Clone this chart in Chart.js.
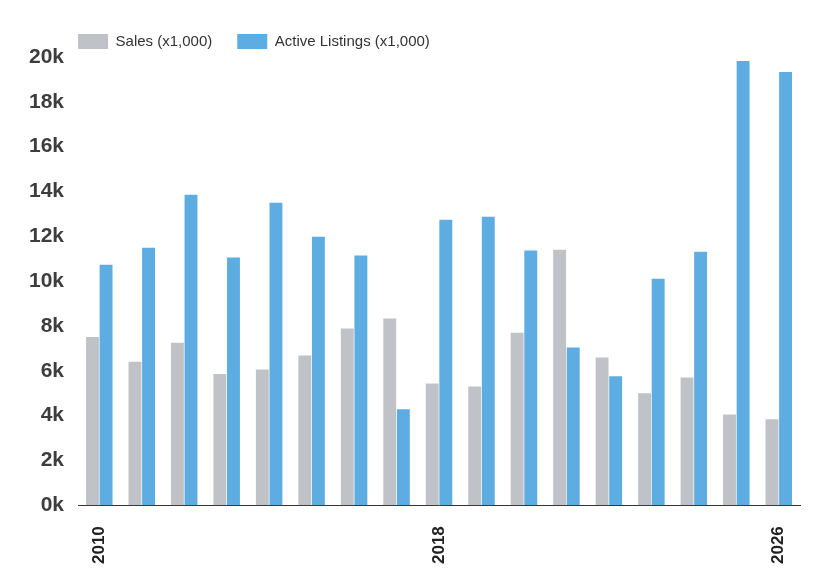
<!DOCTYPE html>
<html>
<head>
<meta charset="utf-8">
<script src="https://cdn.jsdelivr.net/npm/chart.js@4/dist/chart.umd.min.js"></script>
<style>
  html, body { margin: 0; padding: 0; background: #fff; }
  #wrap { width: 827px; height: 573px; }
</style>
</head>
<body>
<div id="wrap"><canvas id="Mercado"></canvas></div>
<script>
var years = ['2010', '2011', '2012', '2013', '2014', '2015', '2016', '2017', '2018',
             '2019', '2020', '2021', '2022', '2023', '2024', '2025', '2026'];
var sales = [7500, 6400, 7250, 5850, 6050, 6680, 7880, 8330, 5430,
             5300, 7700, 11400, 6590, 5000, 5700, 4050, 3830];
var listings = [10730, 11490, 13850, 11050, 13500, 11980, 11140, 4280, 12740,
                12870, 11360, 7040, 5750, 10110, 11310, 19820, 19330];
var shownYears = ['2010', '2018', '2026'];

// line the legend up with the left edge of the plot
var legendShift = {
    id: 'legendShift',
    afterLayout: function (chart) {
        var lg = chart.legend;
        lg.left = chart.chartArea.left - lg.options.labels.padding;
    }
};

var ctx = document.getElementById('Mercado').getContext('2d');
var chart = new Chart(ctx, {
    type: 'bar',
    data: {
        labels: years,
        datasets: [{
            label: 'Sales (x1,000)',
            backgroundColor: '#bfc3c7',
            data: sales
        }, {
            label: 'Active Listings (x1,000)',
            backgroundColor: '#5dade2',
            data: listings
        }]
    },
    plugins: [legendShift],
    options: {
        responsive: true,
        maintainAspectRatio: false,
        animation: false,
        datasets: {
            bar: { barPercentage: 0.95, categoryPercentage: 0.64 }
        },
        layout: { padding: { left: 15, right: 27, top: 9, bottom: -12 } },
        plugins: {
            tooltip: { enabled: false },
            legend: {
                position: 'top',
                align: 'start',
                fullSize: false,
                maxHeight: 48,
                labels: {
                    boxWidth: 30,
                    boxHeight: 15,
                    padding: 25,
                    color: '#333',
                    font: { family: 'Arial, "Liberation Sans", sans-serif', size: 15 }
                }
            }
        },
        scales: {
            x: {
                grid: { display: false, drawTicks: false },
                border: { display: true, color: '#333', width: 1 },
                ticks: {
                    autoSkip: false,
                    maxRotation: 90,
                    minRotation: 90,
                    padding: 21,
                    color: '#222',
                    font: { family: 'Arial, "Liberation Sans", sans-serif', size: 17, weight: 'bold' },
                    callback: function (v, i) {
                        var y = years[i];
                        return shownYears.indexOf(y) >= 0 ? y : '';
                    }
                }
            },
            y: {
                min: 0,
                max: 20000,
                grid: { display: false, drawTicks: false },
                border: { display: false },
                ticks: {
                    stepSize: 2000,
                    padding: 14,
                    color: '#3d3d3d',
                    font: { family: 'Arial, "Liberation Sans", sans-serif', size: 21, weight: 'bold' },
                    callback: function (v) { return (v / 1000) + 'k'; }
                }
            }
        }
    }
});
</script>
</body>
</html>
